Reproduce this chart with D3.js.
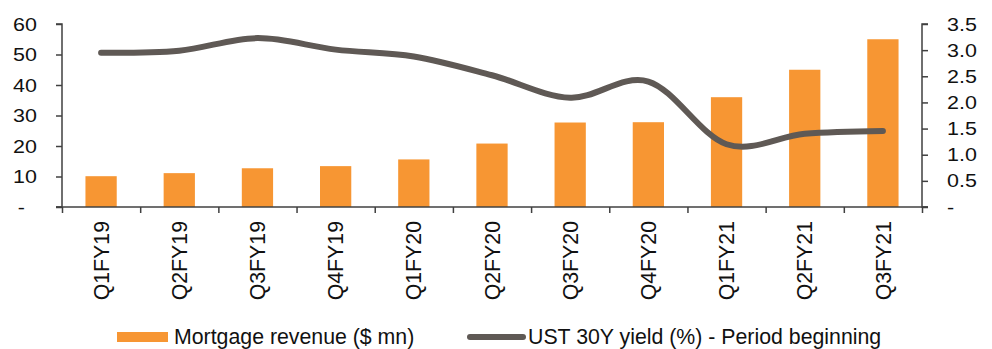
<!DOCTYPE html>
<html>
<head>
<meta charset="utf-8">
<script src="https://cdn.jsdelivr.net/npm/d3@7"></script>
<style>
  html, body { margin: 0; padding: 0; background: #fff; }
  svg { display: block; font-family: "Liberation Sans", Arial, sans-serif; }
</style>
</head>
<body>
<svg id="chart" width="992" height="349"></svg>
<script>
// Quarterly categories
const quarters = ["Q1FY19", "Q2FY19", "Q3FY19", "Q4FY19", "Q1FY20", "Q2FY20",
                  "Q3FY20", "Q4FY20", "Q1FY21", "Q2FY21", "Q3FY21"];
// Mortgage revenue, $ mn (left axis, bars)
const mortgageRevenue = [10.1, 11.1, 12.7, 13.4, 15.6, 20.8, 27.7, 27.8, 36.0, 45.0, 55.0];
// UST 30Y yield at period beginning, % (right axis, line)
const ustYield = [2.95, 2.99, 3.23, 3.01, 2.88, 2.52, 2.09, 2.40, 1.20, 1.40, 1.455];
// Axis ticks
const leftTicks = [0, 10, 20, 30, 40, 50, 60];
const rightTicks = [0, 0.5, 1.0, 1.5, 2.0, 2.5, 3.0, 3.5];
// Legend labels
const legendLabels = ["Mortgage revenue ($ mn)", "UST 30Y yield (%) - Period beginning"];

const svg = d3.select("#chart");
const plot = { left: 62, right: 922, top: 24, bottom: 207 };
const barColor = "#F79633";
const lineColor = "#5F5955";
const axisColor = "#404040";
const textColor = "#111";

const x = d3.scaleBand().domain(quarters).range([plot.left, plot.right]).paddingInner(0.6).paddingOuter(0.3);
const xCenter = d => x(d) + x.bandwidth() / 2;
const yLeft = d3.scaleLinear().domain([0, 60]).range([plot.bottom, plot.top]);
const yRight = d3.scaleLinear().domain([0, 3.5]).range([plot.bottom, plot.top]);

// Bars
svg.append("g").selectAll("rect").data(quarters).join("rect")
  .attr("x", d => x(d))
  .attr("width", x.bandwidth())
  .attr("y", (d, i) => yLeft(mortgageRevenue[i]))
  .attr("height", (d, i) => yLeft(0) - yLeft(mortgageRevenue[i]))
  .attr("fill", barColor);

// Smoothed yield line
const line = d3.line()
  .x((d, i) => xCenter(quarters[i]))
  .y(d => yRight(d))
  .curve(d3.curveCatmullRom.alpha(0));
svg.append("path")
  .datum(ustYield)
  .attr("d", line)
  .attr("fill", "none")
  .attr("stroke", lineColor)
  .attr("stroke-width", 6)
  .attr("stroke-linecap", "round")
  .attr("stroke-linejoin", "round");

// Left axis
const gl = svg.append("g").attr("transform", `translate(${plot.left},0)`)
  .call(d3.axisLeft(yLeft).tickValues(leftTicks).tickSize(6)
    .tickFormat(v => v === 0 ? "-" : d3.format("d")(v)));
// Right axis
const gr = svg.append("g").attr("transform", `translate(${plot.right},0)`)
  .call(d3.axisRight(yRight).tickValues(rightTicks).tickSize(6)
    .tickFormat(v => v === 0 ? "-" : d3.format(".1f")(v)));
// Category axis, ticks between categories
const xTickScale = d3.scaleLinear().domain([0, quarters.length]).range([plot.left, plot.right]);
const gx = svg.append("g").attr("transform", `translate(0,${plot.bottom})`)
  .call(d3.axisBottom(xTickScale).tickValues(d3.range(quarters.length + 1)).tickSize(6).tickFormat(""));

[gl, gr, gx].forEach(g => {
  g.select(".domain").attr("stroke", axisColor).attr("stroke-width", 1.5);
  g.selectAll(".tick line").attr("stroke", axisColor).attr("stroke-width", 1.5);
  g.selectAll("text").attr("fill", textColor).style("font-size", "19px")
    .style("font-family", "Liberation Sans, Arial, sans-serif");
});
gl.select(".domain").attr("d", `M-6,${plot.top}H0V${plot.bottom}H-6`);
gr.select(".domain").attr("d", `M6,${plot.top}H0V${plot.bottom}H6`);
gx.select(".domain").attr("d", `M${plot.left - 6},0H${plot.right + 6}`);

// Value labels are drawn slightly wide
const stretch = 1.13;
gl.selectAll(".tick text").attr("x", 0)
  .attr("transform", d => `translate(${d === 0 ? -37 : -25},0) scale(${stretch},1)`);
gr.selectAll(".tick text").attr("x", 0)
  .attr("transform", `translate(25,0) scale(${stretch},1)`);

// Rotated category labels
svg.append("g").selectAll("text").data(quarters).join("text")
  .attr("transform", d => `translate(${xCenter(d)},221) rotate(-90)`)
  .attr("text-anchor", "end")
  .attr("dy", "0.36em")
  .attr("fill", textColor)
  .style("font-size", "21.3px")
  .text(d => d);

// Legend
const lg = svg.append("g");
lg.append("rect").attr("x", 117).attr("y", 332).attr("width", 51).attr("height", 10).attr("fill", barColor);
lg.append("text").attr("x", 174).attr("y", 344).attr("fill", textColor).style("font-size", "21.3px").text(legendLabels[0]);
lg.append("line").attr("x1", 470).attr("x2", 523).attr("y1", 337).attr("y2", 337)
  .attr("stroke", lineColor).attr("stroke-width", 6).attr("stroke-linecap", "round");
lg.append("text").attr("x", 528).attr("y", 344).attr("fill", textColor).style("font-size", "21.3px").text(legendLabels[1]);
</script>
</body>
</html>
